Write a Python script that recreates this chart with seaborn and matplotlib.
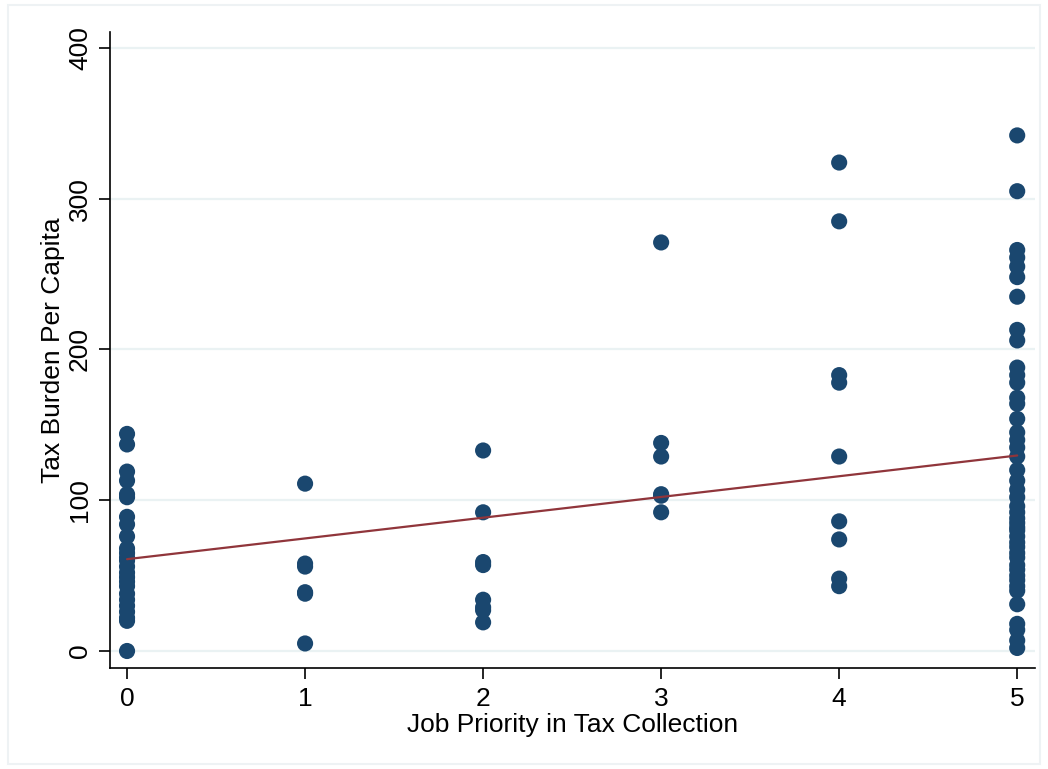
import matplotlib
matplotlib.use("Agg")
import matplotlib.pyplot as plt
import seaborn as sns
import numpy as np
import pandas as pd
from matplotlib.patches import Rectangle

# tax burden per capita, one list per job priority level
burden_0 = [144, 137, 119, 113, 104, 102, 89, 84, 76, 68, 65, 62, 60, 56, 52, 49,
            46, 43, 38, 34, 30, 26, 22, 20, 0]
burden_1 = [111, 58, 56, 39, 38, 5]
burden_2 = [133, 92, 59, 57, 34, 29, 27, 19]
burden_3 = [271, 138, 129, 104, 103, 92]
burden_4 = [324, 285, 183, 178, 129, 86, 74, 48, 43]
burden_5 = [342, 305, 266, 261, 255, 248, 235, 213, 206, 188, 183, 178, 168, 164,
            154, 145, 140, 135, 129, 120, 113, 107, 102, 96, 92, 88, 85, 82, 80,
            76, 72, 69, 65, 62, 57, 54, 50, 47, 43, 40, 31, 18, 14, 7, 2]

x_ticks = [0, 1, 2, 3, 4, 5]
y_ticks = [0, 100, 200, 300, 400]

groups = [burden_0, burden_1, burden_2, burden_3, burden_4, burden_5]
df = pd.DataFrame({
    "priority": np.concatenate([[i] * len(g) for i, g in enumerate(groups)]),
    "burden": np.concatenate(groups),
})

sns.set_style("white")
plt.rcParams["font.family"] = ["Liberation Sans", "DejaVu Sans"]
plt.rcParams["text.color"] = "black"
plt.rcParams["axes.labelcolor"] = "black"
plt.rcParams["xtick.color"] = "black"
plt.rcParams["ytick.color"] = "black"

fig = plt.figure(figsize=(10.48, 7.69), dpi=100)
ax = fig.add_axes([0.105, 0.1313, 0.8826, 0.8271])

for y in y_ticks:
    ax.axhline(y, color="#eaf2f3", lw=1.6, zorder=0)

sns.scatterplot(data=df, x="priority", y="burden", ax=ax, color="#1a476f",
                s=135, edgecolor="none", zorder=3)
sns.regplot(data=df, x="priority", y="burden", ax=ax, scatter=False, ci=None,
            line_kws={"color": "#90353b", "lw": 1.6, "zorder": 4})

ax.set_xlim(-0.0955, 5.1)
ax.set_ylim(-11.3, 410.6)
ax.set_xticks(x_ticks)
ax.set_yticks(y_ticks)
ax.set_yticklabels([str(v) for v in y_ticks], rotation=90, va="center")
ax.tick_params(axis="both", labelsize=19, length=8, width=1.2, color="black",
               labelcolor="black", direction="out", left=True, bottom=True)
ax.tick_params(axis="y", pad=5)
ax.tick_params(axis="x", pad=6)

ax.set_xlabel("Job Priority in Tax Collection", fontsize=19, labelpad=1)
ax.set_ylabel("Tax Burden Per Capita", fontsize=19, labelpad=2)

for side in ["top", "right"]:
    ax.spines[side].set_visible(False)
for side in ["left", "bottom"]:
    ax.spines[side].set_color("black")
    ax.spines[side].set_linewidth(1.2)

fig.patches.append(Rectangle((0.008, 0.006), 0.984, 0.988, transform=fig.transFigure,
                             fill=False, edgecolor="#eef2f4", lw=1.5))

fig.savefig("out.png", dpi=100)
